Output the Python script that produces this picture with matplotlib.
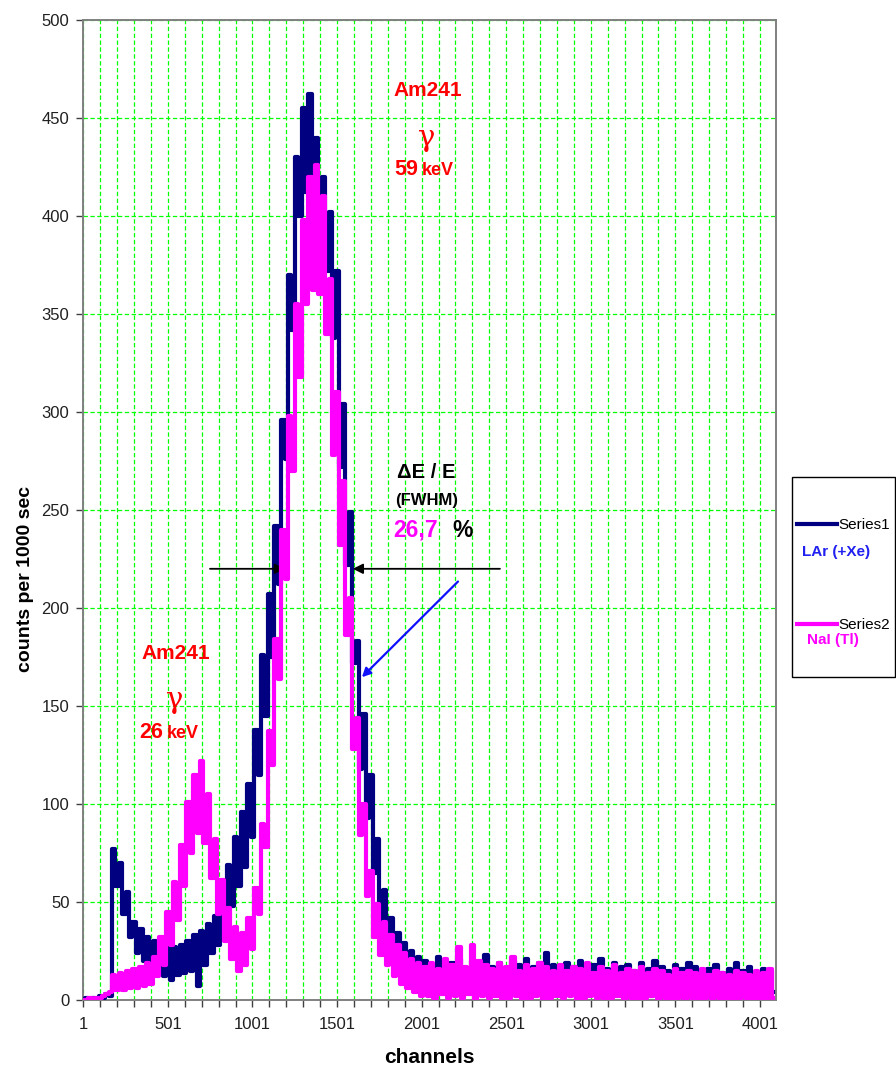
import numpy as np
import matplotlib.pyplot as plt
from matplotlib.patches import Rectangle
from matplotlib.lines import Line2D

plt.rcParams['font.family'] = ['Liberation Sans', 'DejaVu Sans']

# spectrum read every 20 channels
channels = np.arange(1, 4097, 20)

lar_counts = [
    0, 1, 0, 1, 0, 2, 1, 3, 2, 77,
    58, 70, 44, 55, 32, 40, 24, 36, 20, 32,
    17, 30, 16, 28, 12, 27, 10, 27, 13, 28,
    14, 30, 15, 33, 7, 35, 18, 39, 24, 43,
    28, 54, 37, 69, 48, 83, 58, 96, 68, 110,
    83, 138, 115, 176, 145, 207, 175, 242, 212, 296,
    276, 370, 342, 430, 400, 455, 412, 462, 410, 440,
    395, 420, 372, 402, 338, 372, 272, 304, 222, 249,
    172, 183, 118, 146, 93, 115, 65, 82, 40, 56,
    26, 42, 18, 34, 13, 29, 10, 25, 8, 22,
    6,
    20, 5, 18, 7, 22, 4, 17, 6, 19, 3, 21, 6, 16, 5, 20, 8, 18, 4, 23, 6,
    17, 5, 19, 3, 16, 7, 20, 4, 18, 6, 21, 5, 17, 3, 19, 6, 24, 4, 18, 5,
    16, 4, 19, 6, 17, 3, 20, 5, 15, 4, 18, 6, 21, 3, 16, 5, 19, 4, 17, 6,
    18, 3, 15, 5, 19, 4, 16, 2, 20, 5, 17, 4, 15, 3, 18, 5, 16, 2, 19, 4,
    17, 3, 15, 4, 16, 2, 18, 5, 14, 3, 16, 4, 19, 2, 15, 3, 17, 4, 14, 2,
    16, 3, 15, 4,
]

nai_counts = [
    0, 0, 1, 0, 1, 1, 2, 3, 4, 13,
    5, 14, 5, 15, 6, 16, 6, 17, 7, 19,
    8, 22, 12, 32, 18, 45, 28, 60, 41, 79,
    58, 101, 75, 115, 85, 122, 80, 105, 62, 82,
    44, 61, 30, 47, 21, 37, 15, 34, 18, 42,
    26, 57, 44, 90, 78, 137, 120, 184, 164, 240,
    215, 298, 270, 355, 318, 398, 355, 420, 362, 426,
    360, 410, 340, 368, 278, 310, 232, 265, 186, 205,
    128, 144, 84, 100, 53, 66, 32, 49, 23, 40,
    18, 33, 12, 28, 8, 24, 6, 21, 4, 19,
    2,
    17, 2, 19, 1, 16, 3, 21, 1, 18, 2, 27, 1, 17, 3, 28, 0, 20, 2, 18, 1,
    16, 2, 19, 0, 17, 1, 22, 2, 15, 0, 18, 1, 16, 2, 19, 0, 17, 1, 15, 2,
    18, 1, 15, 2, 17, 0, 16, 1, 19, 2, 14, 1, 17, 0, 15, 1, 18, 2, 14, 0,
    16, 1, 15, 0, 17, 1, 14, 2, 16, 0, 15, 1, 13, 0, 16, 1, 14, 0, 15, 1,
    14, 0, 16, 1, 13, 0, 15, 1, 14, 0, 13, 1, 15, 0, 14, 1, 13, 0, 15, 1,
    14, 0, 16, 1,
]

x_labels = [1, 501, 1001, 1501, 2001, 2501, 3001, 3501, 4001]
x_minor = list(range(1, 4097, 100))
y_labels = list(range(0, 501, 50))

fwhm_level = 220
fwhm_left = 1193
fwhm_right = 1594

W, H = 896, 1067


def fig_xy(px, py):
    return px / W, 1 - py / H


fig = plt.figure(figsize=(W / 100, H / 100), dpi=100)
ax = fig.add_axes([83.3 / W, 67 / H, 692.7 / W, 980 / H])

ax.plot(channels, lar_counts, color='#000080', lw=3.0, drawstyle='steps-mid', zorder=3)
ax.plot(channels, nai_counts, color='#FF00FF', lw=3.0, drawstyle='steps-mid', zorder=4)

ax.set_xlim(1, 4096)
ax.set_ylim(0, 500)
ax.set_xticks(x_labels)
ax.set_xticks(x_minor, minor=True)
ax.set_yticks(y_labels)

grid_style = dict(color='#00FF00', lw=0.9, linestyle=(0, (3.5, 2)))
ax.grid(axis='x', which='both', **grid_style)
ax.grid(axis='y', which='major', **grid_style)
ax.set_axisbelow(True)

for s in ax.spines.values():
    s.set_color('#808080')
    s.set_linewidth(1.4)

ax.tick_params(axis='both', which='both', direction='out', length=5, width=1,
               color='#404040', labelcolor='#202020', labelsize=12)
ax.tick_params(axis='x', pad=7.5)
ax.tick_params(axis='y', pad=5)

ax.set_xlabel('channels', fontsize=15, fontweight='bold', labelpad=11)
ax.set_ylabel('counts per 1000 sec', fontsize=14, fontweight='bold')
ax.yaxis.set_label_coords(-0.071, 0.43)

# peak labels
red = '#FF0000'
ax.text(2038, 464, 'Am241', ha='center', va='center', color=red, fontsize=15, fontweight='bold')
ax.text(2032, 440, 'γ', ha='center', va='center', color=red, fontsize=21, family='DejaVu Serif')
ax.text(1978, 421, '59', ha='right', va='baseline', color=red, fontsize=15.5, fontweight='bold')
ax.text(2001, 421, 'keV', ha='left', va='baseline', color=red, fontsize=13, fontweight='bold')

ax.text(549, 176.7, 'Am241', ha='center', va='center', color=red, fontsize=15, fontweight='bold')
ax.text(543, 153, 'γ', ha='center', va='center', color=red, fontsize=21, family='DejaVu Serif')
ax.text(473, 133.7, '26', ha='right', va='baseline', color=red, fontsize=15.5, fontweight='bold')
ax.text(496, 133.7, 'keV', ha='left', va='baseline', color=red, fontsize=13, fontweight='bold')

# resolution
ax.text(2028, 269, 'ΔE / E', ha='center', va='center', fontsize=14.5, fontweight='bold')
ax.text(2028, 254.7, '(FWHM)', ha='center', va='center', fontsize=12, fontweight='bold')
ax.text(2097, 236.4, '26,7', ha='right', va='baseline', color='#FF00FF', fontsize=16.5, fontweight='bold')
ax.text(2180, 236.4, '%', ha='left', va='baseline', fontsize=16.5, fontweight='bold')

head = dict(arrowstyle='-|>', color='black', lw=1.3, mutation_scale=15, shrinkA=0, shrinkB=0)
ax.annotate('', xy=(fwhm_left, fwhm_level), xytext=(750, fwhm_level), arrowprops=head)
ax.annotate('', xy=(fwhm_right, fwhm_level), xytext=(2464, fwhm_level), arrowprops=head)
ax.annotate('', xy=(1648, 164.7), xytext=(2216, 213.5),
            arrowprops=dict(arrowstyle='-|>', color='#1010FF', lw=1.6, mutation_scale=13,
                            shrinkA=0, shrinkB=0))

# legend box on the right
x0, y0 = fig_xy(792, 677)
fig.add_artist(Rectangle((x0, y0), 103 / W, 200 / H, transform=fig.transFigure,
                         facecolor='white', edgecolor='black', lw=1))
for ly, name, color, note, nx, ny in [(524, 'Series1', '#000080', 'LAr (+Xe)', 836.5, 552),
                                      (624, 'Series2', '#FF00FF', 'NaI (Tl)', 833, 640)]:
    ax_, ay_ = fig_xy(797, ly)
    bx_, _ = fig_xy(837, ly)
    fig.add_artist(Line2D([ax_, bx_], [ay_, ay_], transform=fig.transFigure, color=color, lw=3))
    tx, ty = fig_xy(838, ly + 1)
    fig.text(tx, ty, name, ha='left', va='center', fontsize=11)
    cx, cy = fig_xy(nx, ny)
    fig.text(cx, cy, note, ha='center', va='center', fontsize=11, fontweight='bold',
             color='#2020F0' if name == 'Series1' else '#FF00FF')

fig.savefig('out.png', dpi=100)
